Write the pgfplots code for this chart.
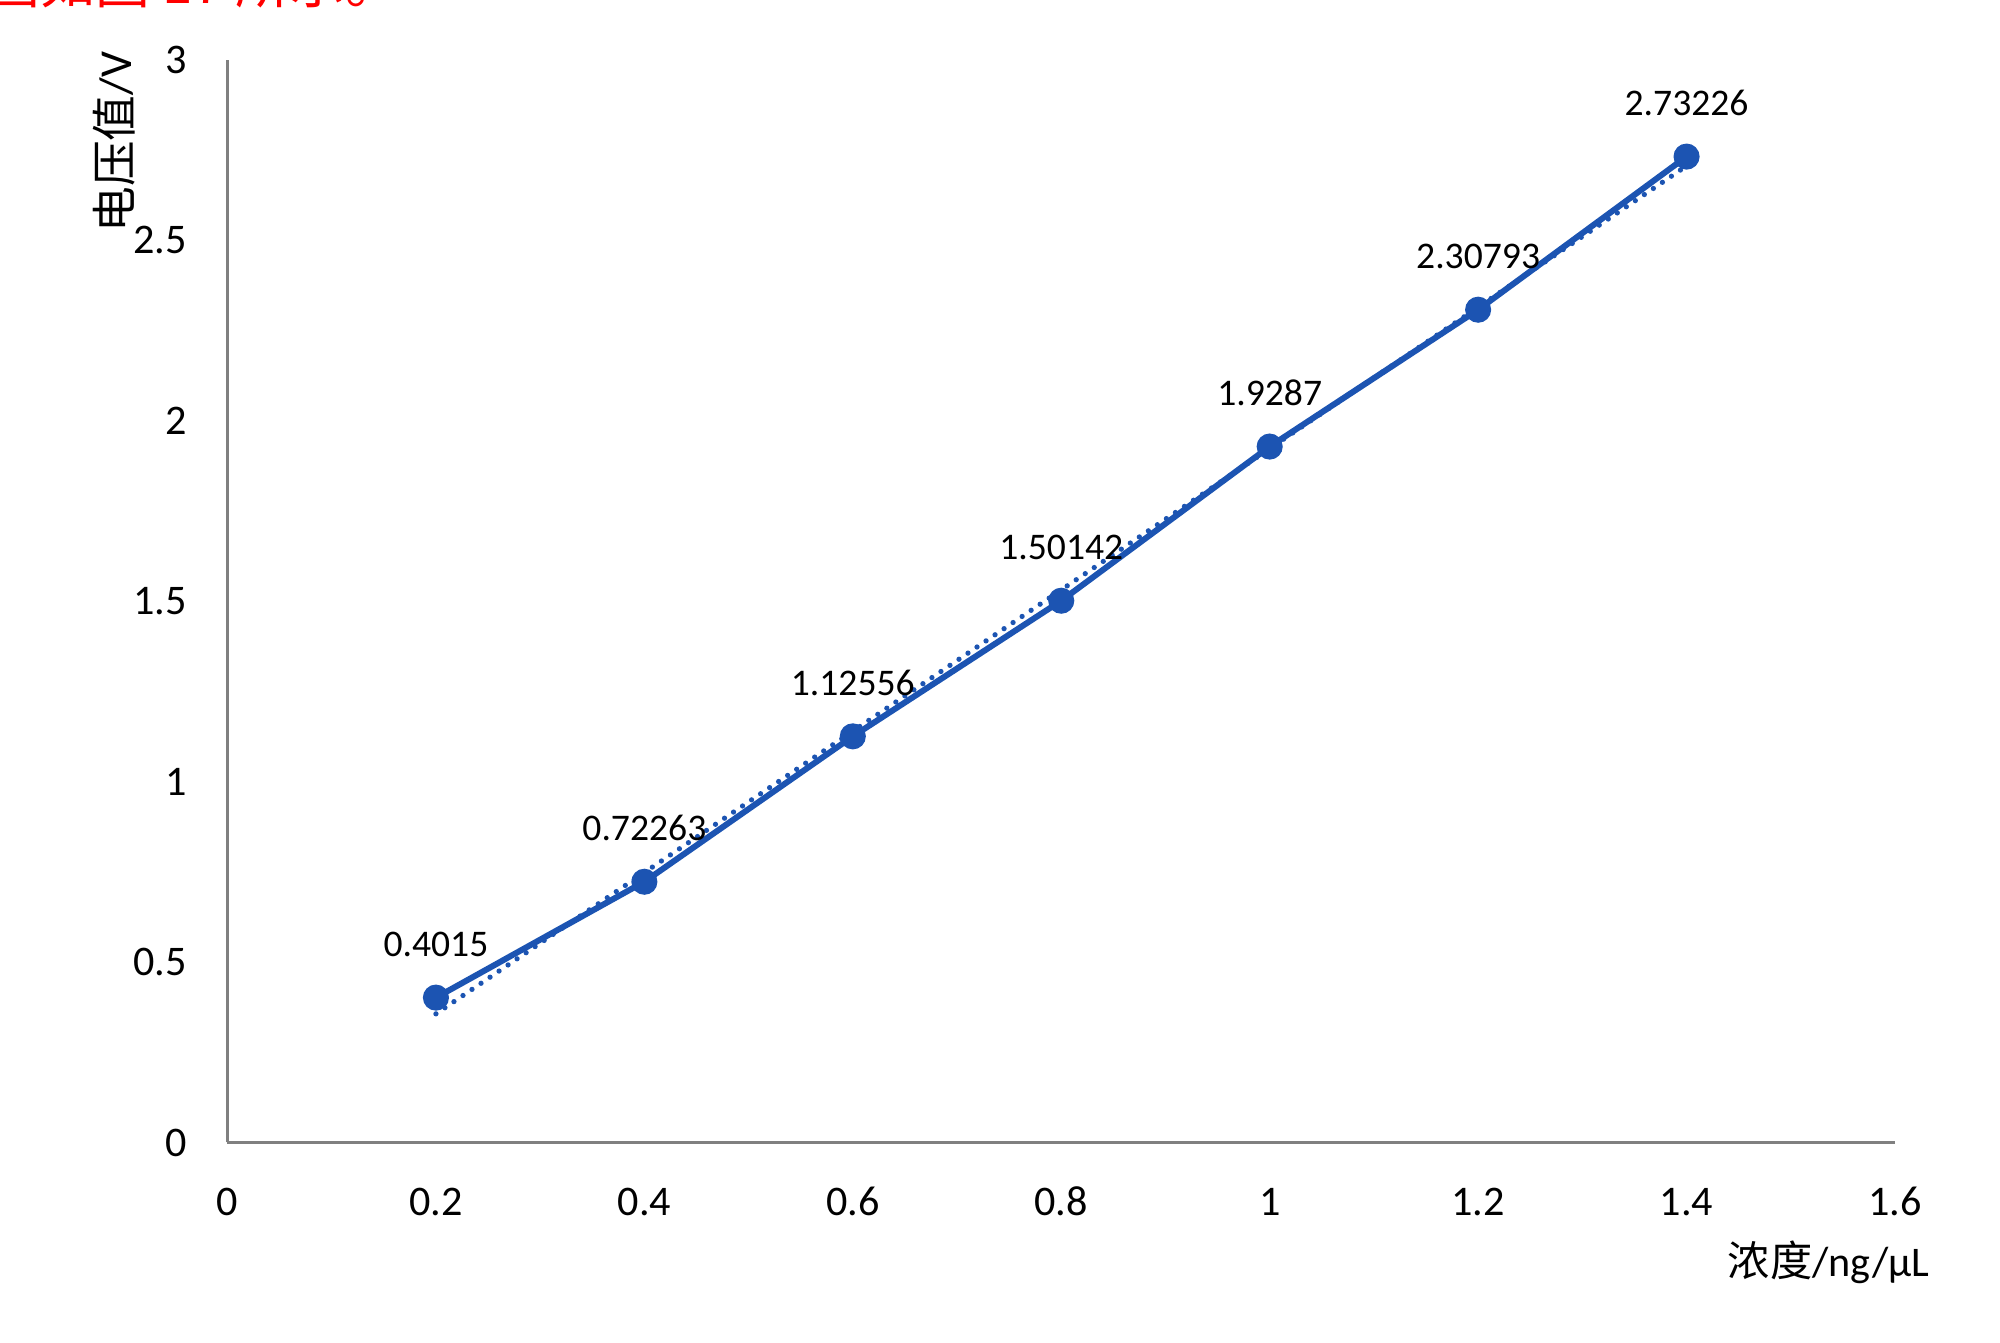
\documentclass[border=0pt]{standalone}
\usepackage{fontspec}
\setmainfont{Carlito}
\newfontfamily\cjk{Noto Sans CJK SC}
\usepackage{pgfplots}
\pgfplotsset{compat=1.18}
\definecolor{serie}{RGB}{28,84,178}
\definecolor{axgray}{RGB}{128,128,128}

\begin{document}
\begin{tikzpicture}
\begin{axis}[scale only axis, width=16.675cm, height=10.825cm,
  xmin=0, xmax=1.6, ymin=0, ymax=3,
  xtick={0,0.2,0.4,0.6,0.8,1,1.2,1.4,1.6},
  ytick={0,0.5,1,1.5,2,2.5,3},
  axis lines*=left, axis line style={axgray, line width=1.1pt, -},
  major tick length=0pt, clip=false,
  /pgf/number format/assume math mode=true,
  tick label style={font=\fontsize{12}{14}\selectfont, inner sep=0pt},
  yticklabel style={anchor=east, xshift=-0.4cm},
  xticklabel style={anchor=base, yshift=-0.73cm},
  xlabel={{\cjk 浓度}/ng/μL},
  xlabel style={at={(axis description cs:1.021,-0.111)}, anchor=east,
    font=\fontsize{12}{14}\selectfont, inner sep=0pt},
  ylabel={{\cjk 电压值}/V},
  ylabel style={at={(axis description cs:-0.068,1.008)}, anchor=east,
    font=\fontsize{13}{15}\selectfont, inner sep=0pt},
  nodes near coords, point meta=explicit symbolic,
  every node near coord/.append style={font=\fontsize{10.7}{13}\selectfont,
    black, anchor=center, inner sep=0pt, yshift=0.535cm}]
\addplot[serie, line width=1.7pt, mark=*, mark size=2.85pt,
  mark options={solid, fill=serie}] coordinates {
  (0.2,0.4015) [0.4015]
  (0.4,0.72263) [0.72263]
  (0.6,1.12556) [1.12556]
  (0.8,1.50142) [1.50142]
  (1.0,1.9287) [1.9287]
  (1.2,2.30793) [2.30793]
  (1.4,2.73226) [2.73226]};
% linear trend line
\addplot[serie, line width=1.5pt, line cap=round,
  dash pattern=on 0pt off 3.1pt, no marks, nodes near coords=] coordinates {
  (0.2,0.3565) (1.4,2.7064)};
\end{axis}
\node[anchor=base west, text=red, inner sep=0pt,
  font=\cjk\fontsize{15.6}{18}\selectfont] at (-2.425,11.39) {图如图 17 所示。};
\pgfresetboundingbox
\useasboundingbox (-2.275,-2.005) rectangle (17.725,11.425);
\end{tikzpicture}
\end{document}
